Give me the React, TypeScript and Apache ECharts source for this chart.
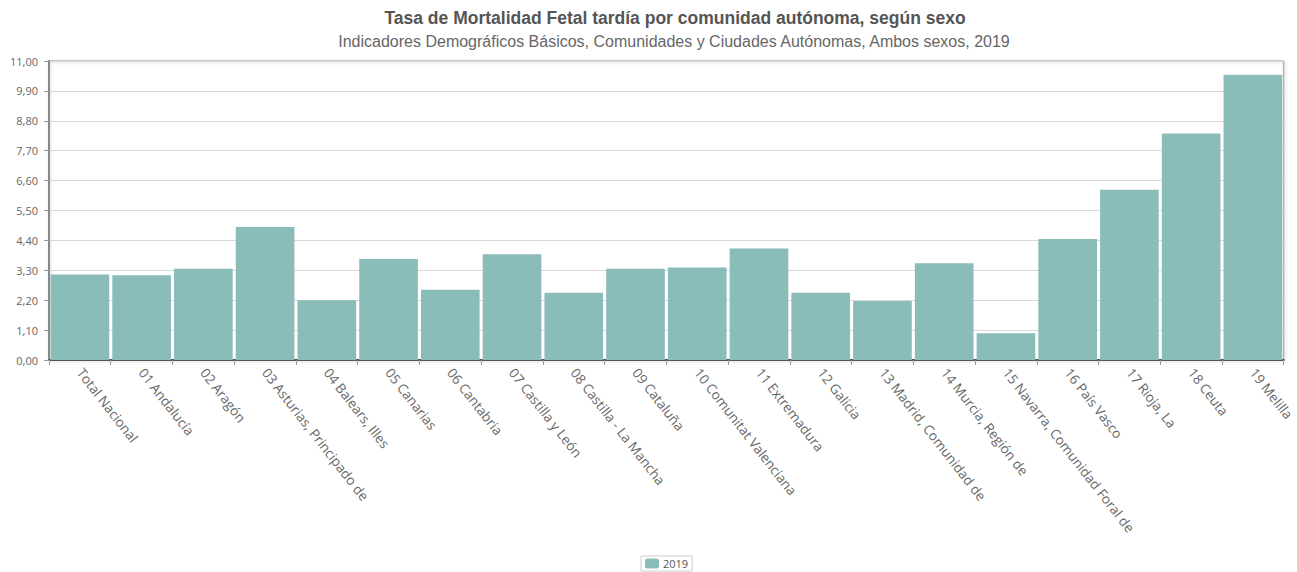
import React, { useEffect, useRef } from "react";
import * as echarts from "echarts";

const categories = [
  "Total Nacional",
  "01 Andalucía",
  "02 Aragón",
  "03 Asturias, Principado de",
  "04 Balears, Illes",
  "05 Canarias",
  "06 Cantabria",
  "07 Castilla y León",
  "08 Castilla - La Mancha",
  "09 Cataluña",
  "10 Comunitat Valenciana",
  "11 Extremadura",
  "12 Galicia",
  "13 Madrid, Comunidad de",
  "14 Murcia, Región de",
  "15 Navarra, Comunidad Foral de",
  "16 País Vasco",
  "17 Rioja, La",
  "18 Ceuta",
  "19 Melilla",
];

const values2019 = [
  3.15, 3.12, 3.36, 4.89, 2.2, 3.72, 2.58, 3.89, 2.47, 3.36,
  3.4, 4.1, 2.47, 2.17, 3.56, 0.98, 4.45, 6.26, 8.33, 10.49,
];

const seriesName = "2019";
const titleText = "Tasa de Mortalidad Fetal tardía por comunidad autónoma, según sexo";
const subtitleText =
  "Indicadores Demográficos Básicos, Comunidades y Ciudades Autónomas, Ambos sexos, 2019";

export default function App() {
  const ref = useRef<HTMLDivElement>(null);
  useEffect(() => {
    if (!ref.current) return;
    const chart = echarts.init(ref.current, null, { renderer: "svg" });
    chart.setOption({
      animation: false,
      backgroundColor: "#ffffff",
      graphic: [
        {
          type: "text",
          x: 675,
          y: 18,
          style: {
            text: titleText,
            textAlign: "center",
            textVerticalAlign: "middle",
            font: "bold 17.5px 'Liberation Sans', Arial, sans-serif",
            fill: "#555555",
          },
        },
        {
          type: "text",
          x: 674,
          y: 41,
          style: {
            text: subtitleText,
            textAlign: "center",
            textVerticalAlign: "middle",
            font: "16px 'Liberation Sans', Arial, sans-serif",
            fill: "#666666",
          },
        },
      ],
      legend: {
        show: true,
        bottom: 1,
        left: 641,
        itemWidth: 14,
        itemHeight: 10,
        itemGap: 4,
        padding: [2, 4, 2, 4],
        borderColor: "#cccccc",
        borderWidth: 1,
        textStyle: { fontSize: 11, color: "#555555", fontFamily: "'Open Sans', sans-serif", padding: [0, 0, 0, -1] },
        data: [seriesName],
      },
      grid: {
        left: 49,
        right: 11,
        top: 61,
        bottom: 212,
        show: true,
        borderColor: "#999999",
        borderWidth: 1,
        shadowColor: "rgba(0,0,0,0.25)",
        shadowBlur: 3,
        shadowOffsetX: 1,
        shadowOffsetY: 1,
      },
      xAxis: {
        type: "category",
        data: categories,
        boundaryGap: true,
        axisLine: { show: true, lineStyle: { color: "#555555", width: 2 } },
        axisTick: { show: true, alignWithLabel: false, length: 5, lineStyle: { color: "#999999" } },
        axisLabel: {
          interval: 0,
          rotate: -52,
          margin: 10,
          fontSize: 13.5,
          color: "#666666",
          fontFamily: "'Open Sans', sans-serif",
        },
      },
      yAxis: {
        type: "value",
        min: 0,
        max: 11,
        interval: 1.1,
        axisLine: { show: true, lineStyle: { color: "#888888", width: 2 } },
        axisTick: { show: true, length: 5, lineStyle: { color: "#999999" } },
        splitLine: { show: true, lineStyle: { color: "#d9d9d9", width: 1 } },
        axisLabel: {
          fontSize: 11,
          color: "#666666",
          margin: 11,
          fontFamily: "'Open Sans', sans-serif",
          formatter: (v: number) => v.toFixed(2).replace(".", ","),
        },
      },
      series: [
        {
          name: seriesName,
          type: "bar",
          data: values2019,
          barCategoryGap: "5%",
          itemStyle: { color: "#8abdb9" },
        },
      ],
    });
    return () => chart.dispose();
  }, []);
  return (
    <div
      ref={ref}
      style={{ position: "fixed", left: 0, top: 0, width: 1297, height: 572 }}
    />
  );
}
